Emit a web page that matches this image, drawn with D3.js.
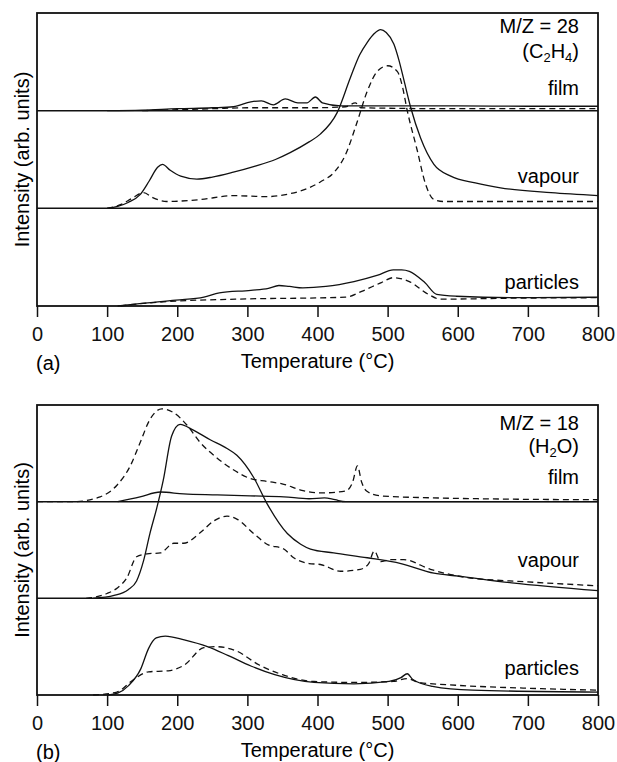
<!DOCTYPE html>
<html>
<head>
<meta charset="utf-8">
<script src="https://cdn.jsdelivr.net/npm/d3@7"></script>
<style>
  body { margin: 0; background: #fff; }
  svg { font-family: "Liberation Sans", Arial, sans-serif; }
</style>
</head>
<body>
<div id="chart"></div>
<script>
// temperature ticks
const xTicks = [0, 100, 200, 300, 400, 500, 600, 700, 800];

// stacked traces: offset of each band (particles bottom, film top)
const bandNames = ["particles", "vapour", "film"];
const bandOffsets = [0, 1, 2];

// (a) M/Z = 28, values in band heights above the band baseline, [T, I]
const c2h4FilmSolid = [[100,0],[150,0.005],[200,0.02],[250,0.03],[280,0.04],[305,0.09],[320,0.1],[337,0.06],[354,0.12],[372,0.08],[385,0.08],[397,0.14],[407,0.08],[433,0.05],[500,0.05],[600,0.05],[700,0.045],[800,0.045]];
const c2h4FilmDashed = [[150,0],[200,0.01],[250,0.02],[300,0.03],[350,0.03],[400,0.03],[440,0.04],[454,0.08],[462,0.03],[500,0.025],[600,0.02],[800,0.02]];
const c2h4VapourSolid = [[100,0],[115,0.02],[130,0.06],[147,0.14],[160,0.28],[172,0.42],[179,0.45],[190,0.39],[205,0.33],[228,0.30],[250,0.32],[280,0.37],[310,0.43],[340,0.50],[361,0.57],[388,0.68],[404,0.76],[428,0.98],[447,1.34],[460,1.57],[471,1.70],[481,1.79],[490,1.83],[498,1.80],[509,1.68],[516,1.52],[523,1.32],[533,1.03],[547,0.72],[566,0.45],[590,0.33],[625,0.26],[661,0.21],[733,0.16],[800,0.13]];
const c2h4VapourDashed = [[100,0],[120,0.04],[135,0.10],[152,0.16],[165,0.11],[185,0.07],[233,0.09],[280,0.13],[328,0.12],[361,0.15],[388,0.21],[404,0.27],[425,0.38],[440,0.55],[455,0.85],[471,1.2],[485,1.4],[500,1.46],[514,1.4],[521,1.25],[528,1.0],[542,0.6],[554,0.25],[566,0.09],[580,0.07],[800,0.07]];
const c2h4PartSolid = [[115,0],[140,0.02],[198,0.06],[238,0.09],[260,0.135],[305,0.16],[330,0.18],[345,0.21],[360,0.2],[379,0.185],[412,0.2],[452,0.25],[486,0.315],[508,0.37],[520,0.37],[531,0.355],[553,0.24],[570,0.12],[598,0.10],[677,0.085],[800,0.09]];
const c2h4PartDashed = [[119,0],[142,0.02],[198,0.05],[283,0.07],[440,0.09],[463,0.15],[491,0.24],[508,0.29],[531,0.25],[558,0.12],[575,0.07],[677,0.08],[800,0.085]];

// (b) M/Z = 18
const h2oFilmSolid = [[115,0],[147,0.05],[176,0.10],[209,0.08],[257,0.07],[304,0.06],[352,0.05],[388,0.03],[410,0.04],[425,0.02],[440,0],[800,0]];
const h2oFilmDashed = [[0,0],[52,0],[90,0.05],[114,0.17],[133,0.37],[147,0.61],[161,0.85],[178,0.96],[195,0.92],[214,0.79],[233,0.61],[257,0.45],[280,0.33],[304,0.24],[328,0.21],[352,0.18],[376,0.12],[404,0.09],[440,0.11],[450,0.2],[457,0.37],[463,0.2],[470,0.11],[490,0.06],[561,0.04],[633,0.03],[800,0.02]];
const h2oVapourSolid = [[80,0],[110,0.03],[130,0.09],[142,0.18],[152,0.39],[161,0.67],[171,0.94],[180,1.22],[192,1.68],[204,1.8],[223,1.74],[247,1.64],[271,1.55],[285,1.48],[309,1.25],[328,0.98],[357,0.67],[376,0.56],[390,0.51],[423,0.47],[471,0.42],[519,0.36],[566,0.26],[601,0.23],[677,0.16],[800,0.08]];
const h2oVapourDashed = [[70,0],[100,0.05],[115,0.11],[128,0.21],[142,0.43],[157,0.46],[176,0.47],[195,0.57],[209,0.57],[233,0.68],[252,0.8],[271,0.85],[285,0.82],[309,0.67],[328,0.56],[352,0.51],[366,0.42],[388,0.36],[404,0.35],[433,0.28],[461,0.3],[473,0.36],[481,0.49],[490,0.38],[504,0.4],[523,0.4],[561,0.3],[609,0.22],[700,0.17],[800,0.13]];
const h2oPartSolid = [[100,0],[115,0.02],[131,0.1],[148,0.27],[159,0.48],[170,0.59],[183,0.61],[210,0.57],[243,0.5],[272,0.41],[305,0.3],[339,0.21],[395,0.13],[452,0.115],[502,0.14],[519,0.18],[528,0.22],[536,0.16],[564,0.09],[621,0.05],[800,0.03]];
const h2oPartDashed = [[80,0],[114,0.03],[136,0.15],[159,0.24],[187,0.25],[210,0.31],[238,0.49],[255,0.5],[283,0.46],[317,0.31],[350,0.21],[395,0.14],[452,0.13],[508,0.14],[528,0.17],[545,0.13],[600,0.1],[700,0.07],[800,0.05]];

const W = 617, H = 762;
const svg = d3.select("#chart").append("svg")
    .attr("width", W)
    .attr("height", H);

const x = d3.scaleLinear().domain([0, 800]).range([37, 598]);

const line = d3.line()
    .x(d => x(d[0]))
    .y(d => d[1])
    .curve(d3.curveMonotoneX);

function drawPanel(cfg) {
    const g = svg.append("g");
    const y = d3.scaleLinear().domain([0, 3]).range([cfg.bottom, cfg.top]);

    // frame
    g.append("rect")
        .attr("x", x(0)).attr("y", y(3))
        .attr("width", x(800) - x(0)).attr("height", y(0) - y(3))
        .attr("fill", "none").attr("stroke", "#111").attr("stroke-width", 1.8);

    // band baselines
    g.selectAll(".base").data(bandOffsets.slice(1)).enter().append("line")
        .attr("x1", x(0)).attr("x2", x(800))
        .attr("y1", d => y(d)).attr("y2", d => y(d))
        .attr("stroke", "#111").attr("stroke-width", 1.5);

    // traces
    cfg.traces.forEach(t => {
        const off = bandOffsets[bandNames.indexOf(t.band)];
        g.append("path")
            .attr("d", line(t.data.map(d => [d[0], y(off + d[1])])))
            .attr("fill", "none")
            .attr("stroke", "#111")
            .attr("stroke-width", 1.3)
            .attr("stroke-dasharray", t.dashed ? "6,4" : null);
    });

    // x axis
    const ax = g.append("g")
        .attr("transform", "translate(0," + y(0) + ")")
        .call(d3.axisBottom(x).tickValues(xTicks).tickSize(11).tickSizeOuter(0));
    ax.select(".domain").remove();
    ax.selectAll(".tick line").attr("stroke", "#111").attr("stroke-width", 1.5);
    ax.selectAll(".tick text")
        .attr("y", 35).attr("dy", null)
        .attr("font-size", 20).attr("fill", "#111")
        .attr("font-family", "Liberation Sans, Arial, sans-serif");

    g.append("text")
        .attr("x", x(400)).attr("y", y(0) + 62)
        .attr("text-anchor", "middle").attr("font-size", 20)
        .text("Temperature (°C)");

    g.append("text")
        .attr("x", 36).attr("y", y(0) + 64)
        .attr("font-size", 20)
        .text(cfg.letter);

    g.append("text")
        .attr("transform", "translate(29," + ((y(0) + y(3)) / 2) + ") rotate(-90)")
        .attr("text-anchor", "middle").attr("font-size", 20)
        .text("Intensity (arb. units)");

    // labels on the right
    g.append("text").attr("x", 579).attr("y", cfg.mzY)
        .attr("text-anchor", "end").attr("font-size", 20).text(cfg.mz);

    const sp = g.append("text").attr("x", 579).attr("y", cfg.speciesY)
        .attr("text-anchor", "end").attr("font-size", 20);
    cfg.species.forEach(s => {
        sp.append("tspan")
            .attr("font-size", s.sub ? 13 : 20)
            .attr("dy", s.sub ? 4 : (s.after ? -4 : 0))
            .text(s.t);
    });

    bandNames.forEach((b, i) => {
        g.append("text").attr("x", 579).attr("y", cfg.labelY[i])
            .attr("text-anchor", "end").attr("font-size", 20).text(b);
    });
}

drawPanel({
    top: 13, bottom: 306, letter: "(a)",
    mz: "M/Z = 28", mzY: 33, speciesY: 58,
    species: [{t: "(C"}, {t: "2", sub: true}, {t: "H", after: true}, {t: "4", sub: true}, {t: ")", after: true}],
    labelY: [289, 183, 95],
    traces: [
        {band: "film", data: c2h4FilmSolid},
        {band: "film", data: c2h4FilmDashed, dashed: true},
        {band: "vapour", data: c2h4VapourSolid},
        {band: "vapour", data: c2h4VapourDashed, dashed: true},
        {band: "particles", data: c2h4PartSolid},
        {band: "particles", data: c2h4PartDashed, dashed: true}
    ]
});

drawPanel({
    top: 405, bottom: 695, letter: "(b)",
    mz: "M/Z = 18", mzY: 430, speciesY: 453,
    species: [{t: "(H"}, {t: "2", sub: true}, {t: "O)", after: true}],
    labelY: [675, 567, 484],
    traces: [
        {band: "film", data: h2oFilmSolid},
        {band: "film", data: h2oFilmDashed, dashed: true},
        {band: "vapour", data: h2oVapourSolid},
        {band: "vapour", data: h2oVapourDashed, dashed: true},
        {band: "particles", data: h2oPartSolid},
        {band: "particles", data: h2oPartDashed, dashed: true}
    ]
});
</script>
</body>
</html>
